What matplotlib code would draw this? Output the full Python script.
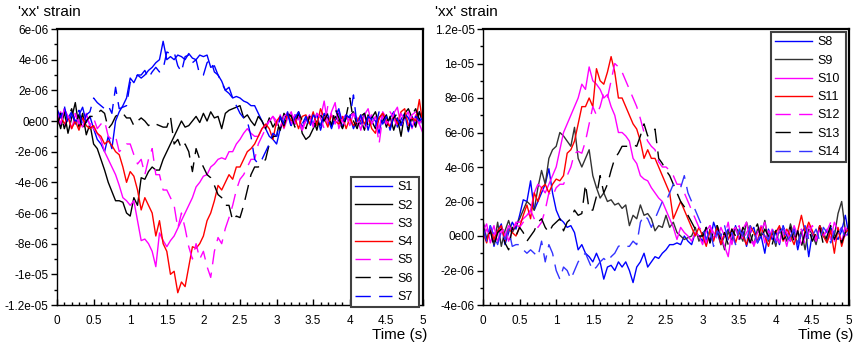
import numpy as np
import matplotlib
matplotlib.use("Agg")
import matplotlib.pyplot as plt
from matplotlib.ticker import MultipleLocator, FuncFormatter

plt.rcParams['font.family'] = ['Liberation Sans', 'DejaVu Sans']

# time axis (s), step 0.05 s
time = np.linspace(0.0, 5.0, 101)
SCALE = 1e-6

# ---------------- left panel (units of 1e-6) ----------------
S1 = [0.5, -0.3, 0.8, 0.2, 0.6, -0.2, 0.4, 0.9, -0.1, 0.3,
      -0.5, -1.2, -1.5, -2.0, -1.0, -1.8, 0.0, 0.6, 1.0, 1.5,
      2.8, 2.5, 3.0, 2.8, 3.0, 3.3, 3.5, 3.8, 4.0, 5.2,
      4.0, 4.2, 4.0, 4.3, 4.2, 4.0, 4.4, 4.1, 4.0, 4.3,
      4.2, 4.3, 3.5, 3.6, 3.0, 2.6, 2.0, 2.2, 1.5, 1.6,
      1.5, 1.3, 1.2, 1.0, 1.0, 0.5, 0.0, -0.5, -1.0, -1.2,
      -1.5, -0.5, 0.0, 0.6, -0.3, 0.4, 0.2, -0.4, 0.1, 0.3,
      -0.2, 0.5, -0.6, 0.2, 0.4, -0.3, 0.0, 0.6, -0.4, 0.2,
      0.3, -0.5, 0.1, -0.2, 0.5, -0.6, 0.3, 0.0, -0.8, 0.4,
      -0.3, 0.2, 0.6, -0.4, 0.1, 0.5, -0.7, 0.3, -0.2, 0.6,
      -0.3]
S2 = [0.3, -0.5, 0.6, -0.8, 0.2, 1.2, -0.4, 0.5, -0.9, -0.2,
      -1.5, -1.8, -2.5, -3.2, -4.0, -4.6, -5.2, -5.2, -5.3, -6.0,
      -6.2, -5.0, -5.5, -3.7, -3.8, -3.3, -3.0, -3.2, -3.2, -2.5,
      -2.0, -1.5, -1.0, -0.5, 0.0, -0.4, -0.3, 0.0, 0.3, -0.1,
      0.5, 0.0, 0.6, 0.2, 0.3, -0.5, 0.5, 0.7, 0.8, 0.9,
      1.0, 0.2, 0.4, 0.0, -0.3, 0.3, 0.0, -0.5, 0.2, -0.4,
      0.0, -0.6, 0.5, 0.2, 0.4, -0.2, 0.5, -0.8, -1.2, -1.0,
      -0.5, 0.0, -0.3, 0.4, 0.2, -0.4, 0.3, 0.0, -0.5, 0.2,
      0.3, 0.6, -0.3, 0.1, -0.6, 0.4, 0.0, -0.5, 0.2, 0.5,
      -0.4, 0.3, -0.6, 0.2, -1.0, 0.5, 0.8, 0.2, -0.4, 0.6,
      0.0]
S3 = [0.6, -0.2, 0.8, 0.3, -0.5, 0.4, 0.0, -0.4, 0.5, -0.3,
      -0.5, -0.8, -1.2, -2.0, -2.5, -3.0, -3.5, -4.2, -5.0, -5.2,
      -5.5, -5.2, -6.5, -7.8, -7.7, -8.0, -8.5, -9.5, -7.3, -7.8,
      -8.2, -7.8, -7.5, -7.0, -6.5, -6.0, -5.5, -5.0, -4.3, -4.0,
      -3.6, -3.5, -3.0, -2.8, -2.5, -2.4, -2.5, -2.0, -2.0, -1.5,
      -1.2, -0.8, -0.5, -0.8, -1.0, -1.0, -0.5, -0.3, 0.0, 0.3,
      -0.3, 0.4, -0.5, 0.2, 0.6, -0.2, 0.3, -0.6, 0.0, 0.4,
      -0.4, 0.5, 0.2, 1.3, -0.3, 0.6, 1.2, -0.5, 0.2, 0.4,
      -0.3, 0.5, 0.2, -0.6, 0.4, 0.8, -0.2, 0.3, -0.5, 0.6,
      0.2, -0.4, 0.5, 0.9, -0.3, 0.2, 0.6, -0.5, 0.4, -0.2,
      -0.8]
S4 = [-0.3, 0.4, -0.2, 0.3, -0.5, 0.0, -0.6, 0.2, -0.3, -0.5,
      -0.3, -0.8, -1.0, -1.5, -1.3, -1.6, -2.0, -2.2, -3.0, -4.0,
      -3.3, -3.6, -4.5, -5.8, -5.0, -5.5, -6.0, -7.5, -6.5, -8.0,
      -8.5, -10.0, -9.8, -11.2, -10.5, -10.8, -9.5, -8.2, -8.3, -8.0,
      -7.5, -6.5, -6.0, -5.2, -4.2, -4.5, -4.0, -3.5, -3.8, -3.0,
      -3.0, -2.5, -2.0, -1.8, -1.5, -1.0, -0.5, -0.2, -0.5, -1.2,
      0.0, 0.3, -0.4, 0.5, 0.0, 0.2, -0.5, 0.3, 0.4, -0.2,
      0.6, -0.3, 0.8, 0.2, -0.4, 0.4, 0.0, -0.2, 0.3, -0.5,
      0.2, -0.3, 0.0, 0.4, -0.2, 0.3, -0.5, -0.8, 0.2, 0.5,
      0.0, -0.4, 0.3, -0.2, 0.6, 0.8, -0.3, 0.2, 0.0, 1.4,
      -0.3]
S5 = [0.2, 0.6, -0.4, 0.3, 0.0, 0.5, -0.2, 0.2, 0.4, -0.3,
      0.2, -0.5, -0.2, 0.0, -1.0, -1.2, -1.0, -2.0, -1.8, -1.5,
      -1.5, -2.2, -2.8, -2.5, -3.5, -2.5, -1.8, -3.5, -3.5, -4.5,
      -4.5, -5.0, -5.5, -7.0, -6.0, -7.0, -8.2, -9.0, -8.0, -9.0,
      -8.5, -9.5, -10.2, -8.5, -7.6, -8.0, -7.0, -6.3, -5.5, -4.5,
      -3.8, -3.5, -3.0, -2.5, -2.5, -1.5, -1.0, -0.5, 0.0, 0.3,
      0.0, -0.4, 0.3, 0.5, -0.2, 0.4, 0.0, -0.6, 0.3, 0.2,
      -0.3, 0.5, 0.2, -0.5, 1.0, 0.4, -0.2, 0.6, 0.0, -0.4,
      0.3, 0.5, -0.3, 0.2, -0.6, 0.0, 0.4, 0.2, -1.5, 0.3,
      -0.2, 0.6, 0.2, -0.4, 0.5, 0.0, -0.3, 0.4, 0.6, -0.2,
      0.3]
S6 = [-0.3, 0.5, -0.5, 0.2, 0.8, -0.2, 0.4, -0.6, 0.0, 0.3,
      0.3, 0.5, 0.7, 0.5, -0.5, -0.2, 0.3, 0.5, 0.5, 0.2,
      0.2, -0.3, 0.0, 0.2, 0.0, -0.3, -0.1, -0.2, -0.3, -0.4,
      -0.4, 0.3, -1.5, -1.2, -1.8, -1.5, -2.0, -3.3, -1.8, -2.5,
      -3.0, -3.5, -3.7, -4.2, -4.8, -5.0, -5.5, -5.5, -6.5, -6.2,
      -6.3, -5.5, -4.5, -3.5, -3.0, -3.0, -2.8, -2.5, -1.5, -1.0,
      -1.0, 0.2, -0.3, 0.5, 0.3, -0.4, 0.6, 0.0, -0.5, 0.3,
      0.2, -0.6, 0.4, 0.0, 0.5, -0.3, 0.8, 0.2, -0.4, 0.3,
      1.5, 0.0, -0.5, 0.3, 0.5, -0.3, 0.2, 0.6, -0.2, 0.0,
      0.4, -0.5, 0.2, 0.5, -0.2, 0.3, -0.6, 0.4, 0.8, 0.1,
      0.5]
S7 = [0.8, 0.2, 1.0, -0.2, 0.5, 0.0, 0.7, -0.3, 0.4, 0.6,
      1.5, 1.2, 1.0, 0.8, 1.0, 0.5, 2.2, 0.8, 0.9, 1.0,
      2.5, 2.8, 3.0, 3.0, 3.3, 2.8, 3.2, 3.5, 3.2, 3.4,
      4.5, 4.4, 4.5, 3.6, 3.2, 4.2, 4.3, 3.8, 4.0, 3.0,
      3.0, 3.8, 4.0, 3.2, 3.0, 2.5, 2.0, 1.8, 1.5, 1.0,
      0.5, 0.2, 0.0, -1.0, -2.5, -2.8, -2.5, -2.0, -1.5, -0.8,
      -1.0, 0.3, -0.2, 0.5, -0.4, 0.2, 0.6, -0.2, 0.3, -0.5,
      0.4, 0.1, -0.3, 0.5, 0.2, -0.5, 0.3, 0.8, -0.2, 0.4,
      0.2, 1.7, -0.3, 0.4, -0.5, 0.3, 0.1, -0.4, 0.6, -0.2,
      0.3, -0.6, 0.4, 0.1, -0.3, 0.5, 0.2, -0.4, 0.3, 0.0,
      0.2]

# ---------------- right panel (units of 1e-6) ----------------
S8 = [0.8, -0.3, 0.6, -0.6, 0.3, 0.7, -0.5, 0.2, 0.8, 0.4,
      1.2, 2.1, 2.0, 3.2, 1.5, 2.0, 2.5, 3.0, 3.9, 2.5,
      1.5, 1.0, 0.8, 0.5, 0.6, 0.2, -0.8, -0.5, -1.0, -1.2,
      -1.5, -1.0, -1.5, -2.5, -1.8, -1.7, -2.0, -1.5, -1.8, -1.5,
      -2.0, -2.7, -1.8, -1.5, -1.0, -1.8, -1.5, -1.2, -1.3, -1.0,
      -0.8, -0.5, -0.5, -0.4, -0.5, 0.0, -0.3, -0.5, 0.2, 0.0,
      -0.3, 0.5, -0.4, 0.8, 0.2, -0.5, 0.0, 0.4, -0.3, 0.6,
      -0.2, 0.3, -0.6, 0.2, 0.5, -0.4, 0.0, -1.0, 0.4, -0.2,
      0.3, -0.5, 0.6, 0.0, -0.3, 0.4, -0.8, 0.2, 0.5, -1.2,
      0.2, -0.4, 0.6, 0.0, -0.3, 0.5, 0.1, -0.2, 0.3, 1.2,
      0.0]
S9 = [0.9, -0.2, 0.4, -0.5, 0.8, -0.6, 0.3, 0.9, 0.2, 0.6,
      1.0, 1.5, 2.0, 1.8, 1.5, 2.8, 3.8, 3.0, 4.5, 5.0,
      5.2, 6.0, 5.8, 5.5, 5.2, 6.3, 4.5, 4.0, 4.5, 5.0,
      3.5, 2.8, 2.2, 2.5, 2.0, 2.1, 1.8, 1.9, 1.6, 1.8,
      0.6, 1.2, 1.0, 1.8, 1.2, 1.3, 1.0, 0.3, 0.6, 0.5,
      1.2, 0.5, 0.8, 0.2, 0.0, -0.2, -0.1, 0.0, 0.5, -0.3,
      0.2, -0.5, 0.4, -0.2, 0.6, 0.0, -0.8, 0.3, -0.4, 0.5,
      0.2, -0.3, 0.8, 0.1, -0.5, 0.4, 0.0, 0.9, -0.3, 0.2,
      -0.6, 0.5, 0.2, -0.3, 0.7, 0.0, -0.4, 0.3, -0.8, 0.4,
      0.1, -0.5, 0.6, 0.2, -0.3, 0.4, 0.0, 1.3, 2.0, 0.3,
      0.5]
S10 = [0.3, 0.7, -0.4, 0.2, -0.3, 0.5, 0.0, 0.6, 0.3, 0.8,
       0.8, 1.0, 1.2, 1.5, 2.5, 3.0, 2.8, 2.5, 3.0, 3.5,
       4.0, 5.0, 6.0, 6.5, 7.0, 7.5, 8.0, 8.8, 8.5, 9.8,
       9.0, 8.8, 8.5, 8.0, 8.2, 7.5, 7.0, 6.0, 6.0, 5.8,
       5.5, 4.5, 4.2, 3.5, 3.3, 3.2, 2.8, 2.5, 2.2, 2.0,
       1.5, 1.0, 0.5, -0.2, 0.5, 0.2, 0.0, -0.3, 0.2, 0.0,
       -0.5, 0.3, 0.6, -0.2, 0.4, 0.0, -0.6, -1.2, 0.3, 0.5,
       -0.2, 0.4, 0.8, -0.3, -0.5, 0.2, 0.6, -0.4, 0.3, 0.0,
       -0.3, 0.5, 0.2, -0.6, 0.4, -0.2, 0.3, -0.5, 0.0, 0.6,
       0.2, -0.3, 0.5, 0.0, 0.4, -0.2, 0.8, 0.3, -0.3, 0.5,
       0.2]
S11 = [0.2, -0.4, 0.5, -0.2, 0.3, 0.6, -0.3, 0.4, 0.2, 0.0,
       0.5, 1.2, 1.8, 1.0, 2.5, 2.0, 2.8, 3.0, 2.5, 3.0,
       3.3, 3.2, 3.5, 4.8, 5.0, 5.5, 6.5, 7.5, 7.5, 8.0,
       7.5, 9.7, 9.0, 8.8, 9.5, 10.4, 9.5, 8.0, 8.0, 7.5,
       7.0, 6.5, 6.2, 5.5, 4.5, 5.0, 4.5, 4.5, 4.0, 3.5,
       3.0, 2.5, 1.0, 1.5, 2.0, 1.5, 1.0, 0.5, 0.0, 0.5,
       0.0, -0.6, 0.3, -0.3, 0.5, -0.5, 0.2, -0.2, 0.4, -0.4,
       0.3, 0.0, -0.5, 0.6, 0.2, -0.3, 0.5, 0.0, -0.6, 0.3,
       0.2, 0.6, -0.3, 0.4, 0.0, -0.5, 0.3, 1.2, 0.2, 0.8,
       0.3, -0.2, 0.6, 0.0, -0.4, 0.3, -1.0, 0.5, -0.6, 0.2,
       0.4]
S12 = [-0.2, 0.4, 0.0, 0.6, -0.4, 0.2, 0.5, -0.3, 0.3, 0.7,
       0.5, 0.8, 1.0, 1.5, 1.0, 0.5, 0.8, 1.5, 2.5, 2.3,
       2.8, 3.0, 3.0, 3.5, 4.0, 4.8, 4.9, 4.8, 5.5, 6.5,
       7.5, 7.0, 7.5, 8.3, 8.0, 9.0, 10.0, 9.8, 9.5, 9.0,
       8.5, 8.0, 7.5, 6.8, 6.0, 5.5, 5.2, 5.0, 4.3, 4.0,
       4.0, 3.8, 3.5, 3.0, 3.0, 2.5, 2.0, 1.5, 1.0, 0.5,
       0.3, -0.4, 0.6, 0.2, -0.2, 0.5, 0.0, 0.8, -0.5, 0.3,
       0.6, -0.3, 0.2, 0.5, -0.6, 0.0, 0.3, 0.8, -0.2, 0.4,
       0.0, -0.4, 0.5, 0.2, -0.3, 0.6, 0.0, 0.4, -0.5, 0.2,
       0.6, -0.2, 0.4, 0.0, 0.3, 0.8, -0.3, 0.2, 0.5, 0.0,
       0.3]
S13 = [0.6, -0.3, 0.3, -0.6, 0.2, 0.4, -0.4, -0.8, 0.5, 0.0,
       0.5, 0.2, -0.3, 0.0, 0.3, 0.8, 1.0, 0.5, 0.2, 0.6,
       0.8, 1.0, 0.3, 0.8, 1.0, 1.5, 1.2, 1.3, 3.0, 1.5,
       1.5, 2.3, 3.5, 2.5, 3.0, 3.8, 4.5, 4.8, 5.2, 5.2,
       5.2, 5.3, 5.2, 5.8, 6.5, 5.8, 6.0, 6.2, 4.5, 4.2,
       3.8, 3.5, 3.0, 2.5, 2.0, 1.7, 1.2, 0.8, 0.4, 0.0,
       0.0, 0.5, -0.4, 0.3, 0.6, -0.3, 0.2, -0.5, 0.4, 0.0,
       -0.3, 0.5, 0.2, -0.4, 0.3, 0.7, -0.2, 0.4, 0.0, -0.5,
       0.3, 0.6, -0.2, 0.0, 0.5, -0.4, 0.3, -0.6, 0.2, 0.4,
       -0.3, 0.2, 0.5, -0.5, 0.0, 0.6, -0.2, 0.3, -0.4, 0.2,
       0.4]
S14 = [0.5, -0.3, 0.6, 0.0, -0.5, 0.3, -0.2, 0.4, -0.6, -0.5,
       -0.5, -0.8, -1.0, -0.8, -1.0, -1.2, -0.3, -1.5, -0.5, -1.0,
       -2.0, -2.5, -1.8, -2.0, -2.5, -2.0, -1.5, -1.2, -1.0, -1.5,
       -2.0, -1.8, -1.5, -1.3, -1.5, -1.2, -1.0, -0.6, -0.5, -0.6,
       -0.6, -0.3, -0.5, 0.8, 1.2, 1.0, 0.5, 1.0, 1.5, 2.0,
       2.0, 2.5, 3.0, 3.0, 2.8, 3.5, 2.5, 2.0, 1.5, 1.0,
       0.5, -0.2, 0.4, -0.6, 0.3, 0.0, 0.6, -0.3, 0.2, -0.5,
       0.4, 0.0, -0.3, 0.6, 0.2, -0.4, 0.3, 0.0, -0.2, 0.5,
       -0.4, 0.2, 0.5, -0.3, 0.0, 0.4, -0.5, 0.3, 0.6, -0.2,
       0.0, 0.4, -0.3, 0.5, 0.2, -0.4, 0.3, 0.0, 0.5, -0.2,
       0.3]

left_labels = ["S1", "S2", "S3", "S4", "S5", "S6", "S7"]
right_labels = ["S8", "S9", "S10", "S11", "S12", "S13", "S14"]
left_series = [S1, S2, S3, S4, S5, S6, S7]
right_series = [S8, S9, S10, S11, S12, S13, S14]
left_colors = ["#0000ff", "#000000", "#ff00ff", "#ff0000", "#ff00ff", "#000000", "#0000ff"]
right_colors = ["#0000ff", "#333333", "#ff00ff", "#ff0000", "#ff00ff", "#000000", "#3333ff"]
styles = ["-", "-", "-", "-", "dash", "dash", "dash"]

left_ylim = (-12e-6, 6e-6)
right_ylim = (-4e-6, 12e-6)

DASH = (0, (11, 6))


def sci_fmt(v, pos):
    if abs(v) < 1e-15:
        return "0e00"
    s = "%.1e" % v
    mant, ex = s.split("e")
    if mant.endswith(".0"):
        mant = mant[:-2]
    return mant + "e" + ex


fig = plt.figure(figsize=(8.56, 3.47), dpi=100)
W, H = 856, 347
AX_W, AX_H, AX_BOT = 366, 276, 305


def make_axes(x0, series, labels, colors, ylim, legend_box):
    ax = fig.add_axes([x0 / W, (H - AX_BOT) / H, AX_W / W, AX_H / H])
    for vals, lab, col, st in zip(series, labels, colors, styles):
        ls = DASH if st == "dash" else "-"
        ax.plot(time, np.array(vals) * SCALE, color=col, lw=1.0,
                linestyle=ls, label=lab)
    ax.set_xlim(0, 5)
    ax.set_ylim(*ylim)
    ax.xaxis.set_major_locator(MultipleLocator(0.5))
    ax.xaxis.set_minor_locator(MultipleLocator(0.1))
    ax.yaxis.set_major_locator(MultipleLocator(2e-6))
    ax.yaxis.set_minor_locator(MultipleLocator(1e-6))
    ax.yaxis.set_major_formatter(FuncFormatter(sci_fmt))
    ax.xaxis.set_major_formatter(FuncFormatter(lambda v, p: "%g" % v))
    ax.tick_params(axis="x", which="both", direction="in", labelsize=8.5,
                   pad=7, width=1)
    ax.tick_params(axis="x", which="major", length=4)
    ax.tick_params(axis="x", which="minor", length=2.5)
    ax.tick_params(axis="y", which="both", direction="out", labelsize=8.5,
                   pad=2, width=1)
    ax.tick_params(axis="y", which="major", length=4)
    ax.tick_params(axis="y", which="minor", length=2.5)
    for sp in ax.spines.values():
        sp.set_linewidth(1.0)
    ax.spines["top"].set_linewidth(1.6)
    ax.spines["right"].set_linewidth(1.6)
    ax.text(1.012, -0.108, "Time (s)", transform=ax.transAxes,
            ha="right", va="center", fontsize=11)
    bx, by, bw, bh = legend_box
    anchor = ((bx - x0) / AX_W, (AX_BOT - (by + bh)) / AX_H,
              bw / AX_W, bh / AX_H)
    leg = ax.legend(loc="upper left", bbox_to_anchor=anchor,
                    mode="expand", fontsize=9, frameon=True, fancybox=False,
                    framealpha=1, edgecolor="#404040", handlelength=2.9,
                    handletextpad=0.5, borderpad=0.35, labelspacing=0.5,
                    borderaxespad=0)
    leg.get_frame().set_linewidth(1.5)
    return ax


axL = make_axes(57, left_series, left_labels, left_colors, left_ylim,
                (351, 177, 68, 125))
axR = make_axes(483, right_series, right_labels, right_colors, right_ylim,
                (771, 32, 75, 124))

fig.text(18 / W, 1 - 12 / H, "'xx' strain", fontsize=11, ha="left", va="center")
fig.text(435 / W, 1 - 12 / H, "'xx' strain", fontsize=11, ha="left", va="center")

fig.savefig("out.png", dpi=100)
